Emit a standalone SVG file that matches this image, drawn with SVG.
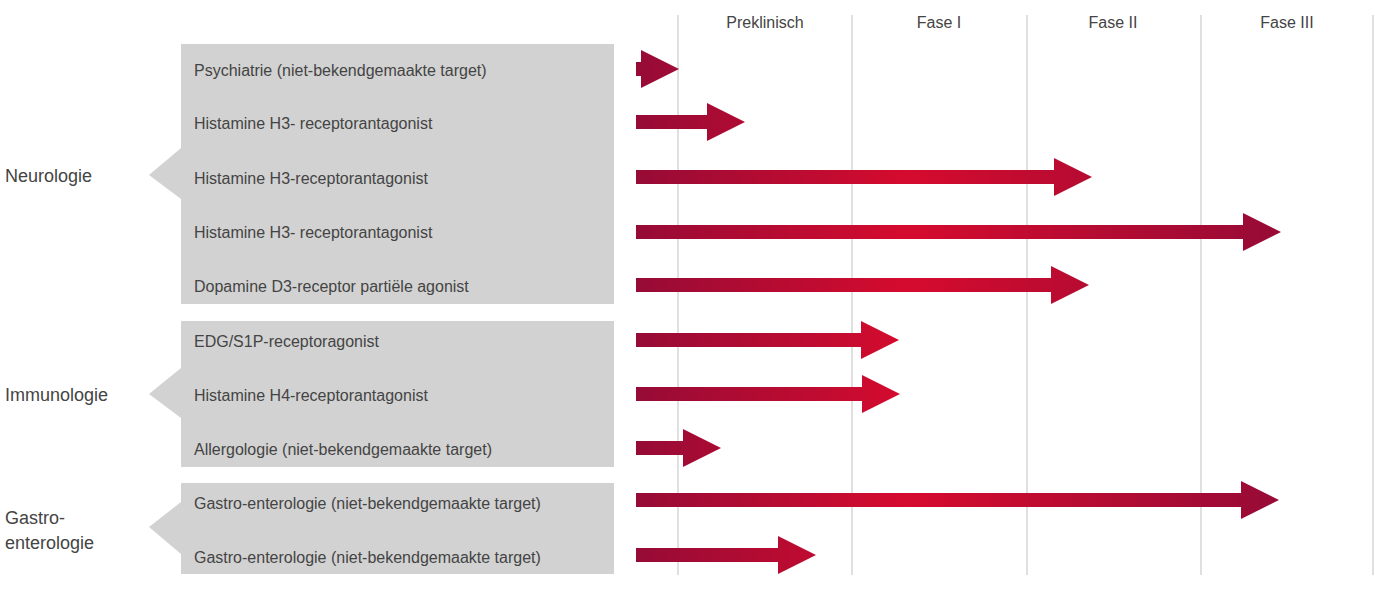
<svg xmlns="http://www.w3.org/2000/svg" width="1375" height="589" viewBox="0 0 1375 589">
<style>
text{font-family:"Liberation Sans",Arial,sans-serif;fill:#444}
.h{font-size:16px;text-anchor:middle}
.l{font-size:16px}
.c{font-size:18px}
.box{fill:#d2d2d2}
.grid{stroke:#cfcfcf;stroke-width:1.3}
.ar{fill:url(#g)}
</style>
<defs>
<linearGradient id="g" gradientUnits="userSpaceOnUse" x1="636" y1="0" x2="1281" y2="0">
<stop offset="0" stop-color="#960b36"/>
<stop offset="0.42" stop-color="#d50b2e"/>
<stop offset="1" stop-color="#960b36"/>
</linearGradient>
</defs>
<g id="grid">
<line class="grid" x1="678" y1="15" x2="678" y2="575"/>
<line class="grid" x1="852" y1="15" x2="852" y2="575"/>
<line class="grid" x1="1027" y1="15" x2="1027" y2="575"/>
<line class="grid" x1="1201" y1="15" x2="1201" y2="575"/>
<line class="grid" x1="1373" y1="15" x2="1373" y2="575"/>
<text class="h" x="765" y="28">Preklinisch</text>
<text class="h" x="939" y="28">Fase I</text>
<text class="h" x="1113" y="28">Fase II</text>
<text class="h" x="1287" y="28">Fase III</text>
</g>
<g id="neurologie">
<path class="box" d="M181 44H614V304H181V199L149 175L181 148Z"/>
<text class="c" x="5" y="182">Neurologie</text>
<text class="l" x="194" y="76">Psychiatrie (niet-bekendgemaakte target)</text>
<text class="l" x="194" y="129">Histamine H3- receptorantagonist</text>
<text class="l" x="194" y="184">Histamine H3-receptorantagonist</text>
<text class="l" x="194" y="238">Histamine H3- receptorantagonist</text>
<text class="l" x="194" y="292">Dopamine D3-receptor partiële agonist</text>
</g>
<g id="immunologie">
<path class="box" d="M181 321H614V467H181V418L149 394L181 368Z"/>
<text class="c" x="5" y="401">Immunologie</text>
<text class="l" x="194" y="347">EDG/S1P-receptoragonist</text>
<text class="l" x="194" y="401">Histamine H4-receptorantagonist</text>
<text class="l" x="194" y="455">Allergologie (niet-bekendgemaakte target)</text>
</g>
<g id="gastro">
<path class="box" d="M181 483H614V574H181V554L149 527L181 502Z"/>
<text class="c" x="5" y="524">Gastro-</text>
<text class="c" x="5" y="549">enterologie</text>
<text class="l" x="194" y="509">Gastro-enterologie (niet-bekendgemaakte target)</text>
<text class="l" x="194" y="563">Gastro-enterologie (niet-bekendgemaakte target)</text>
</g>
<g id="connectors">
<path class="ar" d="M636 62H641V50L679 69L641 88V76H636Z"/>
<path class="ar" d="M636 115H707V103L745 122L707 141V129H636Z"/>
<path class="ar" d="M636 170H1054V158L1092 177L1054 196V184H636Z"/>
<path class="ar" d="M636 225H1243V213L1281 232L1243 251V239H636Z"/>
<path class="ar" d="M636 278H1051V266L1089 285L1051 304V292H636Z"/>
<path class="ar" d="M636 333H861V321L899 340L861 359V347H636Z"/>
<path class="ar" d="M636 387H862V375L900 394L862 413V401H636Z"/>
<path class="ar" d="M636 441H683V429L721 448L683 467V455H636Z"/>
<path class="ar" d="M636 493H1241V481L1279 500L1241 519V507H636Z"/>
<path class="ar" d="M636 548H778V536L816 555L778 574V562H636Z"/>
</g>
</svg>
